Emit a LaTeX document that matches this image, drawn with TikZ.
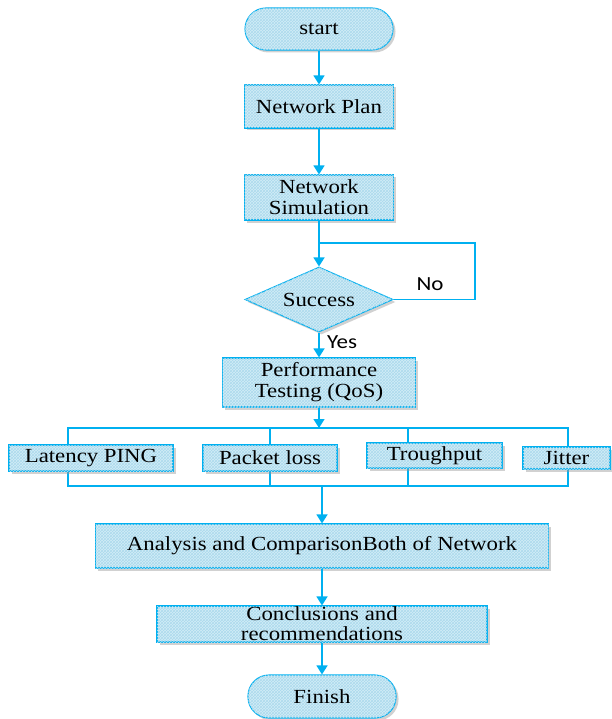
\documentclass[tikz,border=0pt]{standalone}
\usepackage{fontspec}
\setmainfont{Liberation Serif}[FakeStretch=1.14]
\newfontfamily\labelfont{Carlito}[FakeStretch=1.15]
\usetikzlibrary{arrows.meta,shapes.geometric,shadows,patterns,backgrounds}

\definecolor{flowline}{RGB}{0,176,240}
\definecolor{flowfill}{RGB}{210,237,247}
\definecolor{flowhatch}{RGB}{172,218,237}

\tikzset{
  box/.style={draw=flowline, line width=1.1pt, fill=flowfill,
    postaction={pattern=crosshatch, pattern color=flowhatch},
    drop shadow={shadow xshift=2.5pt, shadow yshift=-2.5pt, fill=black!40, opacity=0.45},
    font=\fontsize{20}{21}\selectfont, align=center, inner sep=0pt},
  terminal/.style={box, rounded corners=21pt, minimum width=148pt, minimum height=42pt},
  decision/.style={box, diamond, aspect=2.28, minimum width=148pt, minimum height=65pt},
  link/.style={draw=flowline, line width=1.4pt},
  flow/.style={link, -{Triangle[width=11pt,length=9pt]}},
  branchlabel/.style={font=\labelfont\fontsize{20}{22}\selectfont, inner sep=0pt}
}

\begin{document}
\begin{tikzpicture}[x=1pt, y=-1pt]
  \useasboundingbox (0,0) rectangle (612,719);

  % main column
  \node[terminal] (start) at (319,29) {start};
  \node[box, minimum width=149pt, minimum height=43pt] (plan) at (319,106.5) {Network Plan};
  \node[box, minimum width=149pt, minimum height=45pt] (sim) at (319,197.5) {Network\\Simulation};
  \node[decision] (dec) at (319,299.5) {Success};
  \node[box, minimum width=193pt, minimum height=49pt] (perf) at (319,382.5) {Performance\\Testing (QoS)};

  % QoS metrics
  \node[box, minimum width=164pt, minimum height=26pt] (lat) at (91,458) {Latency PING};
  \node[box, minimum width=134pt, minimum height=26pt] (pkt) at (270,458) {Packet loss};
  \node[box, minimum width=135pt, minimum height=25pt] (thr) at (434.5,455.5) {Troughput};
  \node[box, minimum width=87pt, minimum height=22pt] (jit) at (566.5,458) {Jitter};

  % lower column
  \node[box, minimum width=453pt, minimum height=44pt] (ana) at (322,546) {Analysis and ComparisonBoth of Network};
  \node[box, minimum width=330pt, minimum height=36pt, font=\fontsize{20}{20}\selectfont] (con) at (322,624) {Conclusions and\\recommendations};
  \node[terminal, minimum height=43pt] (fin) at (322,696.5) {Finish};

  % junction points
  \coordinate (loopin) at (319,243);
  \coordinate (loopcorner) at (475,243);
  \coordinate (bustop) at (319,428);
  \coordinate (busbot) at (322,486);
  \coordinate (busnw) at (68,428);
  \coordinate (busse) at (568,486);

  % connectors
  \draw[flow] (start) -- (plan);
  \draw[flow] (plan) -- (sim);
  \draw[flow] (sim) -- (dec);
  \draw[link] (dec.east) -| (loopcorner) -- (loopin);
  \node[branchlabel] (no) at (430,284) {No};
  \draw[flow] (dec) -- (perf);
  \node[branchlabel] (yes) at (342,342) {Yes};
  \draw[flow] (perf) -- (bustop);
  \draw[flow] (busbot) -- (ana);
  \draw[flow] (ana) -- (con);
  \draw[flow] (con) -- (fin);

  % bus frame behind the metric boxes
  \begin{pgfonlayer}{background}
    \draw[link] (busnw) rectangle (busse);
    \draw[link] (pkt.center |- busnw) -- (pkt.center |- busse);
    \draw[link] (408,428) -- (408,486);
  \end{pgfonlayer}
\end{tikzpicture}
\end{document}
